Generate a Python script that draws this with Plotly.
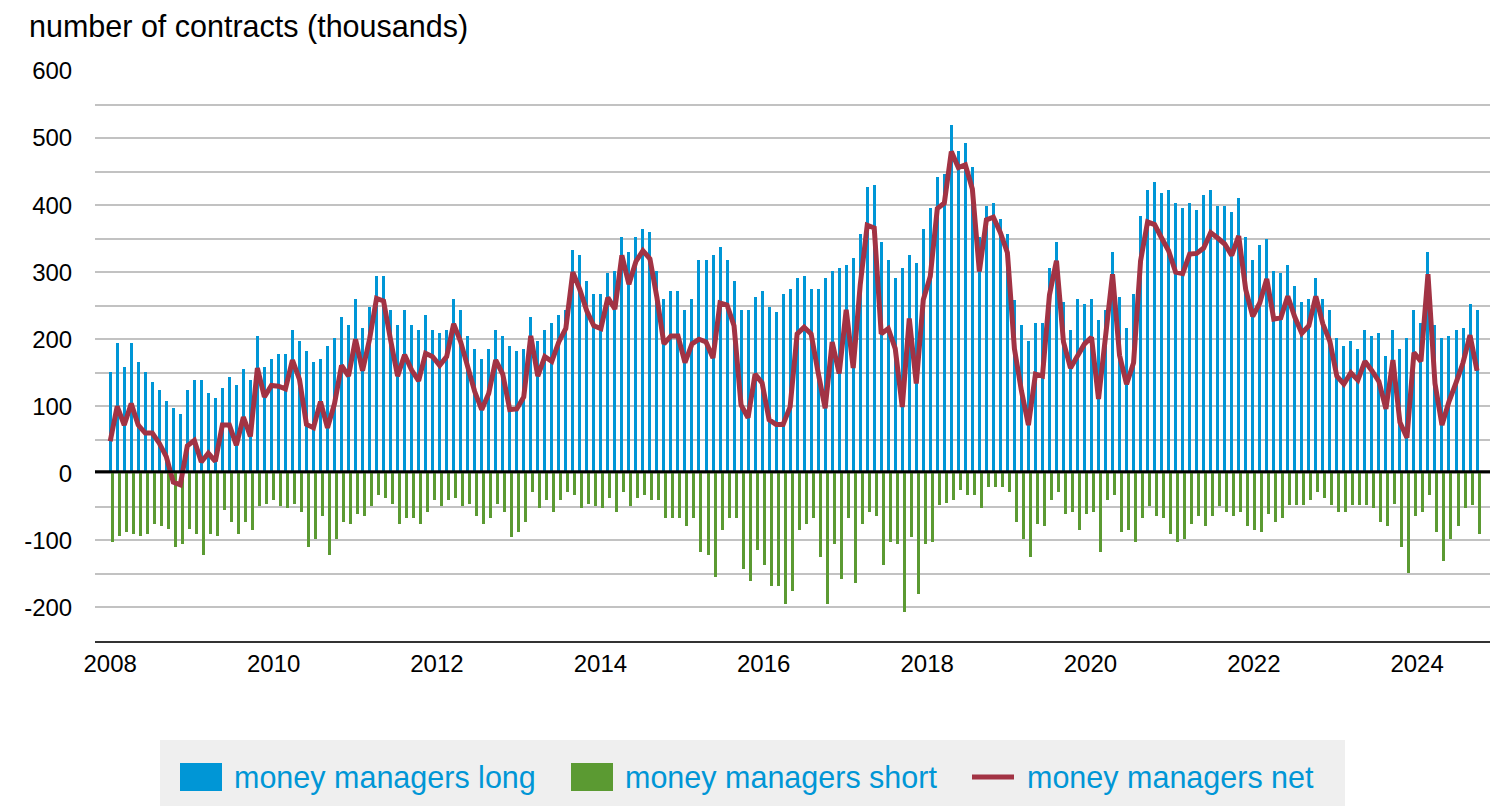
import pandas as pd
import plotly.graph_objects as go

# ---------------- data (thousands of contracts) ----------------
long_positions = [
    151, 194, 159, 194, 166, 151, 136, 124, 108, 97, 89, 124, 139, 139, 120, 112, 127, 144, 132, 156,
    139, 205, 159, 171, 178, 178, 214, 197, 183, 166, 171, 190, 202,
    233, 221, 260, 217, 248, 294, 294, 244, 221, 244, 221, 214, 236, 214, 209, 214, 260, 244, 205,
    186, 171, 186, 214, 205, 190, 183, 186, 233, 197, 214, 224, 236, 244,
    333, 326, 287, 268, 268, 299, 302, 353, 330, 353, 365, 360, 302, 260, 272, 272, 244, 260, 318,
    318, 326, 338, 318, 287, 244, 244, 263, 272, 248, 241, 268, 275, 292,
    294, 275, 275, 292, 302, 306, 311, 321, 357, 427, 430, 345, 318, 292, 306, 326, 314, 365, 396,
    442, 447, 520, 481, 493, 457, 353, 399, 403, 380, 357, 258, 221,
    197, 224, 224, 306, 345, 256, 214, 260, 253, 260, 229, 244, 330, 263, 217, 268, 384, 423, 435,
    418, 423, 403, 396, 403, 392, 415, 423, 399, 399, 389, 411, 353, 318,
    341, 350, 302, 299, 311, 280, 256, 260, 292, 260, 244, 202, 190, 197, 186, 214, 205, 209, 175,
    214, 186, 202, 244, 224, 330, 221, 202, 205, 214, 217, 253, 244,
]
short_positions = [
    -103, -94, -87, -90, -94, -91, -76, -79, -83, -110, -106, -83, -90, -122, -90, -94, -55, -72, -90,
    -72, -84, -48, -45, -40, -48, -52, -45, -57, -110, -98, -64, -122, -98,
    -72, -76, -60, -64, -48, -33, -37, -45, -76, -67, -67, -76, -57, -40, -48, -40, -37, -48, -45,
    -64, -76, -67, -45, -57, -95, -87, -72, -28, -52, -40, -57, -40,
    -28, -33, -52, -45, -48, -52, -37, -57, -28, -48, -37, -33, -40, -40, -67, -67, -67, -79, -67,
    -118, -122, -154, -84, -67, -67, -142, -161, -115, -137, -168, -168, -195, -176,
    -84, -76, -67, -125, -195, -106, -157, -67, -164, -76, -57, -64, -137, -102, -106, -207, -95,
    -180, -106, -102, -47, -44, -40, -25, -33, -33, -52, -21, -21, -21, -28, -72, -98,
    -125, -76, -79, -40, -28, -60, -57, -84, -60, -57, -118, -40, -33, -87, -84, -103, -67, -48,
    -64, -67, -91, -103, -98, -76, -64, -79, -64, -48, -57, -64, -57, -79, -84,
    -87, -60, -72, -67, -47, -47, -47, -40, -28, -37, -47, -57, -57, -47, -47, -47, -52, -72, -79,
    -45, -110, -149, -64, -57, -33, -87, -130, -98, -79, -52, -47, -91,
]
net_positions = [
    48, 100, 72, 104, 72, 60, 60, 45, 25, -13, -17, 41, 49, 17, 30, 18, 72, 72, 42, 84,
    55, 157, 114, 131, 130, 126, 169, 140, 73, 68, 107, 68, 104,
    161, 145, 200, 153, 200, 261, 257, 199, 145, 177, 154, 138, 179, 174, 161, 174, 223, 196, 160,
    122, 95, 119, 169, 148, 95, 96, 114, 205, 145, 174, 167, 196, 216,
    300, 274, 242, 220, 216, 262, 245, 325, 282, 316, 332, 320, 262, 193, 205, 205, 165, 193, 200,
    196, 172, 254, 251, 220, 102, 83, 148, 135, 80, 73, 73, 99, 208,
    218, 208, 150, 97, 196, 149, 244, 157, 281, 370, 366, 208, 216, 186, 99, 231, 134, 259, 294,
    395, 403, 480, 456, 460, 424, 301, 378, 382, 359, 329, 186, 123,
    72, 148, 145, 266, 317, 196, 157, 176, 193, 203, 111, 204, 297, 176, 133, 165, 317, 375, 371,
    351, 332, 300, 298, 327, 328, 336, 359, 351, 342, 325, 354, 274, 234,
    254, 290, 230, 232, 264, 233, 209, 220, 264, 223, 197, 145, 133, 150, 139, 167, 153, 137, 96,
    169, 76, 53, 180, 167, 297, 134, 72, 107, 135, 165, 206, 153,
]
report_dates = pd.date_range("2008-01-01", "2024-09-25", periods=len(long_positions))

year_ticks = [f"{y}-01-01" for y in range(2008, 2025, 2)]
year_labels = [str(y) for y in range(2008, 2025, 2)]
y_grid = list(range(-200, 601, 50))
y_labels = [str(v) if v % 100 == 0 else "" for v in y_grid]

# ---------------- styling ----------------
BLUE = "#0096d6"
GREEN = "#5b9a32"
RED = "#a23344"
FONT = "Liberation Sans, Arial, sans-serif"

W, H = 1491, 806
L, R, T, B = 95, 1490, 71, 641          # plot area in pixels
PW, PH = R - L, B - T
MS_PER_PX = 365.25 * 86400000 / 81.7


def px(x):
    return (x - L) / PW


def py(y):
    return (B - y) / PH


fig = go.Figure()
fig.add_bar(x=report_dates, y=long_positions, marker_color=BLUE, marker_line_width=0,
            width=3 * MS_PER_PX, offset=-1.5 * MS_PER_PX, name="money managers long")
fig.add_bar(x=report_dates, y=short_positions, marker_color=GREEN, marker_line_width=0,
            width=3 * MS_PER_PX, offset=0.5 * MS_PER_PX, name="money managers short")
fig.add_scatter(x=report_dates, y=net_positions, mode="lines",
                line=dict(color=RED, width=5), name="money managers net")

shapes = [
    # zero line on top of bars
    dict(type="line", xref="paper", yref="y", x0=0, x1=1, y0=2.5, y1=2.5,
         line=dict(color="black", width=3), layer="above"),
    # legend box
    dict(type="rect", xref="paper", yref="paper", x0=px(160), x1=px(1345), y0=py(806), y1=py(740),
         fillcolor="#efefef", line_width=0, layer="below"),
    dict(type="rect", xref="paper", yref="paper", x0=px(180), x1=px(222), y0=py(791), y1=py(763),
         fillcolor=BLUE, line_width=0),
    dict(type="rect", xref="paper", yref="paper", x0=px(571), x1=px(613), y0=py(791), y1=py(763),
         fillcolor=GREEN, line_width=0),
    dict(type="line", xref="paper", yref="paper", x0=px(972), x1=px(1014), y0=py(777), y1=py(777),
         line=dict(color=RED, width=5)),
]

LEG_SIZE = 30.5
TICK_SIZE = 24
annotations = [
    dict(text="number of contracts (thousands)", xref="paper", yref="paper", x=px(27), y=py(27),
         xanchor="left", yanchor="middle", showarrow=False,
         font=dict(size=LEG_SIZE, color="black", family=FONT)),
    dict(text="money managers long", xref="paper", yref="paper", x=px(232), y=py(777),
         xanchor="left", yanchor="middle", showarrow=False, font=dict(size=LEG_SIZE, color=BLUE, family=FONT)),
    dict(text="money managers short", xref="paper", yref="paper", x=px(623), y=py(777),
         xanchor="left", yanchor="middle", showarrow=False, font=dict(size=LEG_SIZE, color=BLUE, family=FONT)),
    dict(text="money managers net", xref="paper", yref="paper", x=px(1025), y=py(777),
         xanchor="left", yanchor="middle", showarrow=False, font=dict(size=LEG_SIZE, color=BLUE, family=FONT)),
]

fig.update_layout(
    width=W, height=H,
    margin=dict(l=L, r=W - R, t=T, b=H - B, pad=0),
    paper_bgcolor="white", plot_bgcolor="white",
    barmode="overlay", bargap=0,
    showlegend=False,
    font=dict(family=FONT, size=TICK_SIZE, color="black"),
    shapes=shapes, annotations=annotations,
    xaxis=dict(
        type="date", range=["2007-10-25", "2024-11-22"],
        tickvals=year_ticks, ticktext=year_labels,
        showgrid=False, zeroline=False,
        showline=True, linecolor="#333333", linewidth=2,
        ticks="", ticklen=0,
        tickfont=dict(size=TICK_SIZE, color="black", family=FONT),
    ),
    yaxis=dict(
        range=[-250, 600], tickvals=y_grid, ticktext=y_labels,
        showgrid=True, gridcolor="#c2c2c2", gridwidth=2,
        zeroline=False, showline=False,
        ticks="outside", ticklen=17, tickcolor="rgba(0,0,0,0)",
        tickfont=dict(size=TICK_SIZE, color="black", family=FONT),
    ),
)

fig.write_html("out.html", config={"displayModeBar": False},
               post_script="document.body.style.margin='0';document.body.style.overflow='hidden';")
